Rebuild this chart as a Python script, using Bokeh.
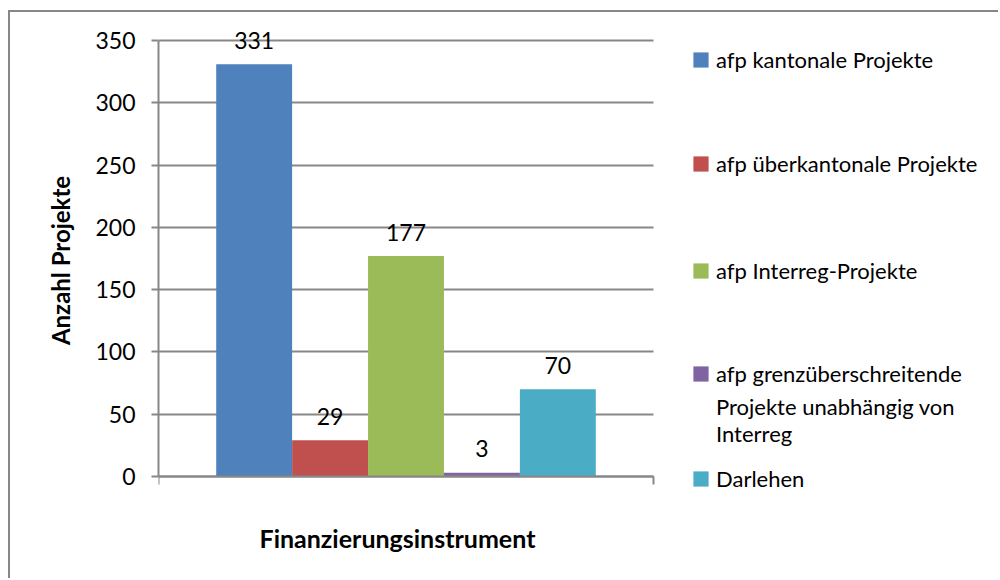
from bokeh.plotting import figure
from bokeh.models import (ColumnDataSource, Range1d, FixedTicker, Legend,
                          LegendItem, Grid, Title)
from bokeh.core.properties import value
from bokeh.embed import file_html
from bokeh.resources import INLINE

# ---- data ----
series = [
    "afp kantonale Projekte",
    "afp überkantonale Projekte",
    "afp Interreg-Projekte",
    "afp grenzüberschreitende\nProjekte unabhängig von\nInterreg",
    "Darlehen",
]
counts = [331, 29, 177, 3, 70]
colors = ["#4F81BD", "#C0504D", "#9BBB59", "#8064A2", "#4BACC6"]
y_ticks = [0, 50, 100, 150, 200, 250, 300, 350]
y_max = 350
x_title = "Finanzierungsinstrument"
y_title = "Anzahl Projekte"

FONT = "Lato"
GRAY = "#878787"

# ---- layout (pixels) ----
W, H = 990, 568
B_LEFT, B_RIGHT, B_TOP, B_BOTTOM = 148, 15, 8, 80
PLOT_W = 495          # width of the bar area
PLOT_H = 436          # height of 0..350
GAP_TOP = 20          # room above the 350 line for labels
frame_w = W - B_LEFT - B_RIGHT
frame_h = H - B_TOP - B_BOTTOM
gap_bottom = frame_h - PLOT_H - GAP_TOP

pos = list(range(len(counts)))
src = ColumnDataSource(dict(x=pos, top=counts, color=colors,
                            label=[str(c) for c in counts]))

pad = 0.76
x_start, x_end = -0.5 - pad, len(counts) - 0.5 + pad
px_x = PLOT_W / (x_end - x_start)
px_y = PLOT_H / y_max
x_range = Range1d(x_start, x_start + frame_w / px_x)
y_range = Range1d(-gap_bottom / px_y, y_max + GAP_TOP / px_y)

p = figure(width=W, height=H, x_range=x_range, y_range=y_range,
           output_backend="svg", toolbar_location=None,
           min_border_left=B_LEFT, min_border_top=B_TOP,
           min_border_right=B_RIGHT, min_border_bottom=B_BOTTOM,
           styles={"margin-left": "8px", "margin-top": "10px",
                   "border-top": f"2px solid {GRAY}",
                   "border-left": f"2px solid {GRAY}"})
p.outline_line_color = None
p.background_fill_color = "white"
p.border_fill_color = "white"

# grid limited to the bar area
p.xgrid.visible = False
yg = p.ygrid[0]
yg.ticker = FixedTicker(ticks=y_ticks)
yg.grid_line_color = GRAY
yg.grid_line_width = 2
if hasattr(Grid, "cross_bounds"):
    yg.cross_bounds = (x_start, x_end)
else:
    yg.visible = False
    p.segment(x0=[x_start] * len(y_ticks), x1=[x_end] * len(y_ticks),
              y0=y_ticks, y1=y_ticks, line_color=GRAY, line_width=2,
              level="underlay")

bars = p.vbar(x="x", top="top", bottom=0, width=1.0, source=src,
              fill_color="color", line_color=None)
# transparent renderer used for the continuation lines of a legend label
blank = p.vbar(x=[], top=[], width=1.0, fill_alpha=0, line_alpha=0)

p.text(x="x", y="top", text="label", source=src,
       text_align="center", text_baseline="alphabetic", y_offset=-24,
       text_font=value(FONT), text_font_size="23px", text_color="black")

# y axis
ya = p.yaxis[0]
ya.ticker = FixedTicker(ticks=y_ticks)
ya.bounds = (0, y_max)
ya.major_tick_out = 7
ya.major_tick_in = 0
ya.minor_tick_out = 0
ya.minor_tick_in = 0
ya.axis_line_color = GRAY
ya.axis_line_width = 2
ya.major_tick_line_color = GRAY
ya.major_tick_line_width = 2
ya.major_label_text_font = FONT
ya.major_label_text_font_size = "23px"
ya.major_label_text_color = "black"
ya.major_label_standoff = 16
ya.axis_label = y_title
ya.axis_label_text_font = FONT
ya.axis_label_text_font_style = "bold"
ya.axis_label_text_font_size = "24px"
ya.axis_label_text_color = "black"
ya.axis_label_standoff = 17

# x axis at y = 0 (only end ticks, as minor ticks, no labels)
xa = p.xaxis[0]
xa.fixed_location = 0
xa.bounds = (x_start, x_end)
xa.ticker = FixedTicker(ticks=[], minor_ticks=[x_start, x_end])
xa.major_tick_out = 0
xa.major_tick_in = 0
xa.minor_tick_out = 8
xa.minor_tick_in = 0
xa.minor_tick_line_color = GRAY
xa.minor_tick_line_width = 2
xa.axis_line_color = GRAY
xa.axis_line_width = 2
xa.major_label_standoff = 0

xt = Title(text=x_title, align="left", offset=101, standoff=40,
           text_font=FONT, text_font_style="bold", text_font_size="25px",
           text_color="black")
p.add_layout(xt, "below")

# legends, one per entry, inside the frame to the right of the bars
first, rest = series[3].split("\n", 1)
entries = [
    (series[0], bars, 0, 427),
    (series[1], bars, 1, 323),
    (series[2], bars, 2, 216),
    (first, bars, 3, 113),
    (rest, blank, None, 53),
    (series[4], bars, 4, 8),
]
legend_x = 533
for label, rend, idx, ly in entries:
    item = LegendItem(label=label, renderers=[rend], index=idx)
    leg = Legend(items=[item], location=(legend_x, ly),
                 padding=0, margin=0, spacing=0,
                 border_line_color=None, background_fill_alpha=0,
                 glyph_width=19, glyph_height=19, label_standoff=6,
                 label_text_font=FONT, label_text_font_size="22px",
                 label_text_line_height=1.4, label_text_color="black")
    p.add_layout(leg)

open("out.html", "w").write(file_html(p, INLINE))
